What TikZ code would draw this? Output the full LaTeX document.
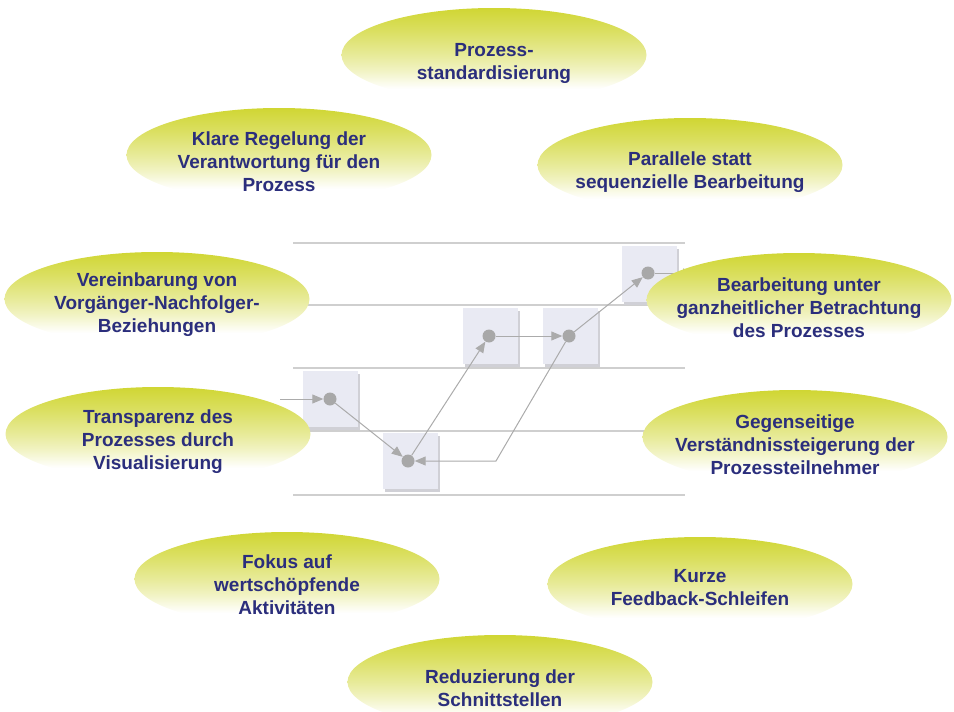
\documentclass[tikz,border=0pt]{standalone}
\usepackage{fontspec}
\setmainfont{Liberation Sans}
\usetikzlibrary{shapes.geometric,arrows.meta,shadows}
\definecolor{ylw}{HTML}{D0D633}
\definecolor{txt}{HTML}{2B2E7C}
\definecolor{lne}{HTML}{CFCFCF}
\definecolor{boxf}{HTML}{E9EAF3}
\definecolor{boxs}{HTML}{D0D0D6}
\definecolor{dotc}{HTML}{A8A8A8}
\definecolor{arr}{HTML}{ABABAB}
\pgfdeclareverticalshading{bubblefade}{100bp}{%
  color(0bp)=(white); color(25bp)=(white); color(32bp)=(white);
  color(42bp)=(ylw!30!white); color(50bp)=(ylw!50!white);
  color(63bp)=(ylw!78!white); color(75bp)=(ylw); color(100bp)=(ylw)}
\tikzset{
  bubble/.style={ellipse, minimum width=305pt, minimum height=94pt, inner sep=0pt,
    shading=bubblefade},
  btext/.style={text=txt, font=\bfseries\fontsize{19}{23}\selectfont, align=center, inner sep=0pt},
  hline/.style={draw=lne, line width=1.6pt},
  actbox/.style={rectangle, minimum width=55pt, minimum height=56pt, fill=boxf, inner sep=0pt,
    general shadow={fill=boxs, shadow xshift=2.5pt, shadow yshift=-2.5pt}},
  dot/.style={circle, fill=dotc, minimum size=13pt, inner sep=0pt},
  flow/.style={draw=arr, line width=1pt, -{Triangle[length=11pt,width=9pt]}}
}
\begin{document}
\begin{tikzpicture}[x=1pt,y=-1pt]
\useasboundingbox (0,0) rectangle (954,712);
% swimlane lines
\draw[hline] (293,243) -- (685,243);
\draw[hline] (293,305) -- (685,305);
\draw[hline] (293,368) -- (685,368);
\draw[hline] (293,431) -- (685,431);
\draw[hline] (293,495) -- (685,495);
% activity boxes
\node[actbox] (ba) at (330,399) {};
\node[actbox] (bb) at (410,461) {};
\node[actbox] (bc) at (490,336) {};
\node[actbox] (bd) at (570,336) {};
\node[actbox] (be) at (649,274) {};
% dots
\node[dot] (a) at (330,399) {};
\node[dot] (b) at (408,461) {};
\node[dot] (c) at (489,336) {};
\node[dot] (d) at (569,336) {};
\node[dot] (e) at (648,273) {};
\coordinate (in) at (280,399);
\coordinate (bend) at (496,461);
\coordinate (out) at (694,273);
% connectors
\draw[flow] (in) -- (a);
\draw[flow] (a) -- (b);
\draw[flow] (b) -- (c);
\draw[flow] (c) -- (d);
\draw[flow] (d) -- (e);
\draw[flow] (d) -- (bend) -- (b);
\draw[flow] (e) -- (out);
% bubbles
\node[bubble] (p1) at (494,55) {};
\node[btext] (t1) at (494,63) {Prozess-\\standardisierung};
\node[bubble] (p2) at (279,155) {};
\node[btext] (t2) at (279,162) {Klare Regelung der\\Verantwortung für den\\Prozess};
\node[bubble] (p3) at (690,165) {};
\node[btext] (t3) at (690,172) {Parallele statt\\sequenzielle Bearbeitung};
\node[bubble] (p4) at (157,299) {};
\node[btext] (t4) at (157,305) {Vereinbarung von\\Vorgänger-Nachfolger-\\Beziehungen};
\node[bubble] (p5) at (799,300) {};
\node[btext] (t5) at (799,308) {Bearbeitung unter\\ganzheitlicher Betrachtung\\des Prozesses};
\node[bubble] (p6) at (158,434) {};
\node[btext] (t6) at (158,442) {Transparenz des\\Prozesses durch\\Visualisierung};
\node[bubble] (p7) at (795,437) {};
\node[btext] (t7) at (795,445) {Gegenseitige\\Verständnissteigerung der\\Prozessteilnehmer};
\node[bubble] (p8) at (287,579) {};
\node[btext] (t8) at (287,585) {Fokus auf\\wertschöpfende\\Aktivitäten};
\node[bubble] (p9) at (700,584) {};
\node[btext] (t9) at (700,588) {Kurze\\Feedback-Schleifen};
\node[bubble] (p10) at (500,682) {};
\node[btext] (t10) at (500,688) {Reduzierung der\\Schnittstellen};
\end{tikzpicture}
\end{document}
